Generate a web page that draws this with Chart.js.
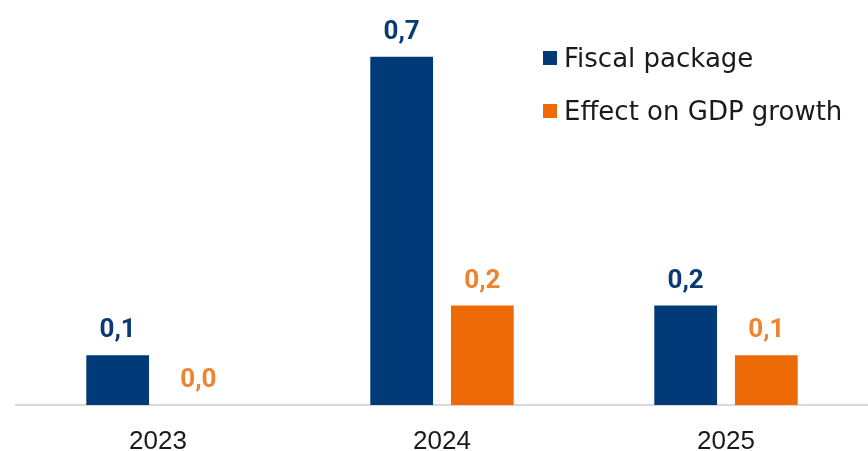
<!DOCTYPE html>
<html>
<head>
<meta charset="utf-8">
<script src="https://cdn.jsdelivr.net/npm/chart.js@4.4.1/dist/chart.umd.min.js"></script>
<style>
  html, body { margin: 0; padding: 0; background: #fff; }
  #wrap { position: relative; width: 868px; height: 451px; }
  #legend { position: absolute; left: 543px; top: 40px; font-family: "DejaVu Sans", sans-serif; font-size: 26px; color: #1a1a1a; }
  #legend .item { display: flex; align-items: center; height: 36px; margin-bottom: 17px; }
  #legend .sw { width: 14px; height: 14px; margin-right: 7px; }
</style>
</head>
<body>
<div id="wrap">
  <canvas id="chart" width="868" height="451"></canvas>
  <div id="legend"></div>
</div>
<script>
// ── Data ──
const years = ['2023', '2024', '2025'];
const fiscalPackage = [0.1, 0.7, 0.2];
const gdpEffect = [0.0, 0.2, 0.1];
const seriesNames = ['Fiscal package', 'Effect on GDP growth'];

const BLUE = '#003A78';
const ORANGE = '#EE6A06';
const BLUE_LBL = '#0B3A72';
const ORANGE_LBL = '#F0832F';

// value labels above each bar, comma decimal
const valueLabels = {
  id: 'valueLabels',
  afterDatasetsDraw(chart) {
    const ctx = chart.ctx;
    ctx.save();
    ctx.font = 'bold 26px Roboto, sans-serif';
    ctx.textAlign = 'center';
    ctx.textBaseline = 'alphabetic';
    chart.data.datasets.forEach((ds, i) => {
      const meta = chart.getDatasetMeta(i);
      ctx.fillStyle = ds._labelColor;
      meta.data.forEach((bar, j) => {
        ctx.fillText(ds.data[j].toFixed(1).replace('.', ','), bar.x, bar.y - 18);
      });
    });
    ctx.restore();
  }
};

const chart = new Chart(document.getElementById('chart'), {
  type: 'bar',
  data: {
    labels: years,
    datasets: [
      { label: seriesNames[0], data: fiscalPackage, backgroundColor: BLUE, _labelColor: BLUE_LBL,
        categoryPercentage: 0.568, barPercentage: 0.778 },
      { label: seriesNames[1], data: gdpEffect, backgroundColor: ORANGE, _labelColor: ORANGE_LBL,
        categoryPercentage: 0.568, barPercentage: 0.778 }
    ]
  },
  options: {
    responsive: false,
    animation: false,
    layout: { padding: { left: 16, right: 0, top: 7, bottom: 0 } },
    plugins: { legend: { display: false }, tooltip: { enabled: false } },
    scales: {
      x: {
        grid: { display: false, drawTicks: false },
        border: { display: true, color: '#D9D9D9', width: 2 },
        ticks: { color: '#1a1a1a', font: { family: 'Liberation Sans, Arial, sans-serif', size: 26 }, padding: 21 },
        afterFit(scale) { scale.height = 46; }
      },
      y: { display: false, min: 0, max: 0.8 }
    }
  },
  plugins: [valueLabels]
});

// HTML legend
const legendEl = document.getElementById('legend');
chart.data.datasets.forEach(ds => {
  const item = document.createElement('div');
  item.className = 'item';
  item.innerHTML = `<span class="sw" style="background:${ds.backgroundColor}"></span><span>${ds.label}</span>`;
  legendEl.appendChild(item);
});
</script>
</body>
</html>
